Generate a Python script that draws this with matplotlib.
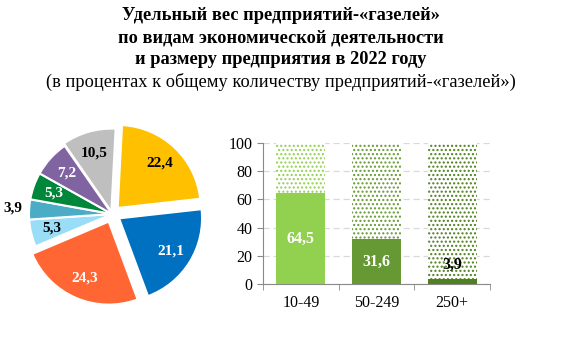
import numpy as np
import matplotlib
matplotlib.use("Agg")
from matplotlib import pyplot as plt

plt.rcParams["font.family"] = ["Liberation Serif", "DejaVu Serif"]
plt.rcParams["hatch.linewidth"] = 1.0

# pie: activity shares, clockwise from top
pie_values = [22.4, 21.1, 24.3, 5.3, 3.9, 5.3, 7.2, 10.5]
pie_labels = ["22,4", "21,1", "24,3", "5,3", "3,9", "5,3", "7,2", "10,5"]
pie_colors = ["#FFC000", "#0070C0", "#FF6633", "#99DDF7", "#4BACC6", "#00873A", "#8064A2", "#BFBFBF"]
pie_text_colors = ["black", "white", "white", "black", "black", "white", "white", "black"]
pie_explode = [0.1, 0.1, 0.1, 0.0, 0.0, 0.0, 0.0, 0.03]

# bars: enterprise size groups
size_groups = ["10-49", "50-249", "250+"]
size_values = [64.5, 31.6, 3.9]
size_labels = ["64,5", "31,6", "3,9"]
bar_colors = ["#92D050", "#669933", "#4F7F20"]
bar_text_colors = ["white", "white", "black"]

fig = plt.figure(figsize=(5.61, 3.5), dpi=100)

fig.text(0.5, 0.98, "Удельный вес предприятий-«газелей»\nпо видам экономической деятельности\nи размеру предприятия в 2022 году",
         ha="center", va="top", fontsize=13.2, fontweight="bold", linespacing=1.4)
fig.text(0.5, 0.765, "(в процентах к общему количеству предприятий-«газелей»)",
         ha="center", va="center", fontsize=13.2)

# pie
L = 1.3
w = 2 * L * 83 / 561
h = 2 * L * 83 / 350
ax1 = fig.add_axes([112 / 561 - w / 2, 136 / 350 - h / 2, w, h])
wedges, _ = ax1.pie(pie_values, colors=pie_colors, explode=pie_explode, startangle=87,
                    counterclock=False, wedgeprops=dict(edgecolor="white", linewidth=1.5))
ax1.set_xlim(-L, L)
ax1.set_ylim(-L, L)
ax1.set_aspect("equal")
for wd, lab, tc, ex in zip(wedges, pie_labels, pie_text_colors, pie_explode):
    ang = np.deg2rad((wd.theta1 + wd.theta2) / 2)
    r = 1.2 if lab == "3,9" else 0.74 + ex
    ax1.text(r * np.cos(ang), r * np.sin(ang), lab, ha="center", va="center",
             fontsize=11, fontweight="bold", color=tc)

# bars
ax2 = fig.add_axes([263 / 561, 66 / 350, 227 / 561, 141 / 350])
x = np.arange(len(size_groups))
rest = [100 - v for v in size_values]
ax2.bar(x, size_values, width=0.65, color=bar_colors, zorder=3)
for xi, v, rv, c in zip(x, size_values, rest, bar_colors):
    ax2.bar(xi, rv, bottom=v, width=0.65, facecolor="white", edgecolor=c,
            hatch="....", linewidth=0, zorder=3)
for xi, v, lab, tc in zip(x, size_values, size_labels, bar_text_colors):
    y = v / 2 if v > 10 else v + 10
    ax2.text(xi, y, lab, ha="center", va="center", fontsize=11.5, fontweight="bold", color=tc, zorder=5)

ax2.set_xlim(-0.5, 2.5)
ax2.set_ylim(0, 100)
ax2.set_yticks([0, 20, 40, 60, 80, 100])
ax2.set_xticks(x)
ax2.set_xticklabels(size_groups)
ax2.set_xticks([-0.5, 0.5, 1.5, 2.5], minor=True)
ax2.tick_params(axis="x", which="major", length=0, labelsize=11.5, pad=8)
ax2.tick_params(axis="x", which="minor", length=4, color="#898989")
ax2.tick_params(axis="y", length=4, color="#898989", labelsize=11.5)
ax2.grid(axis="y", color="#D9D9D9", linestyle=(0, (5, 3)), linewidth=0.9, zorder=0)
for s in ["top", "right"]:
    ax2.spines[s].set_visible(False)
ax2.spines["left"].set_color("#898989")
ax2.spines["bottom"].set_color("#898989")

fig.savefig("out.png", dpi=100)
